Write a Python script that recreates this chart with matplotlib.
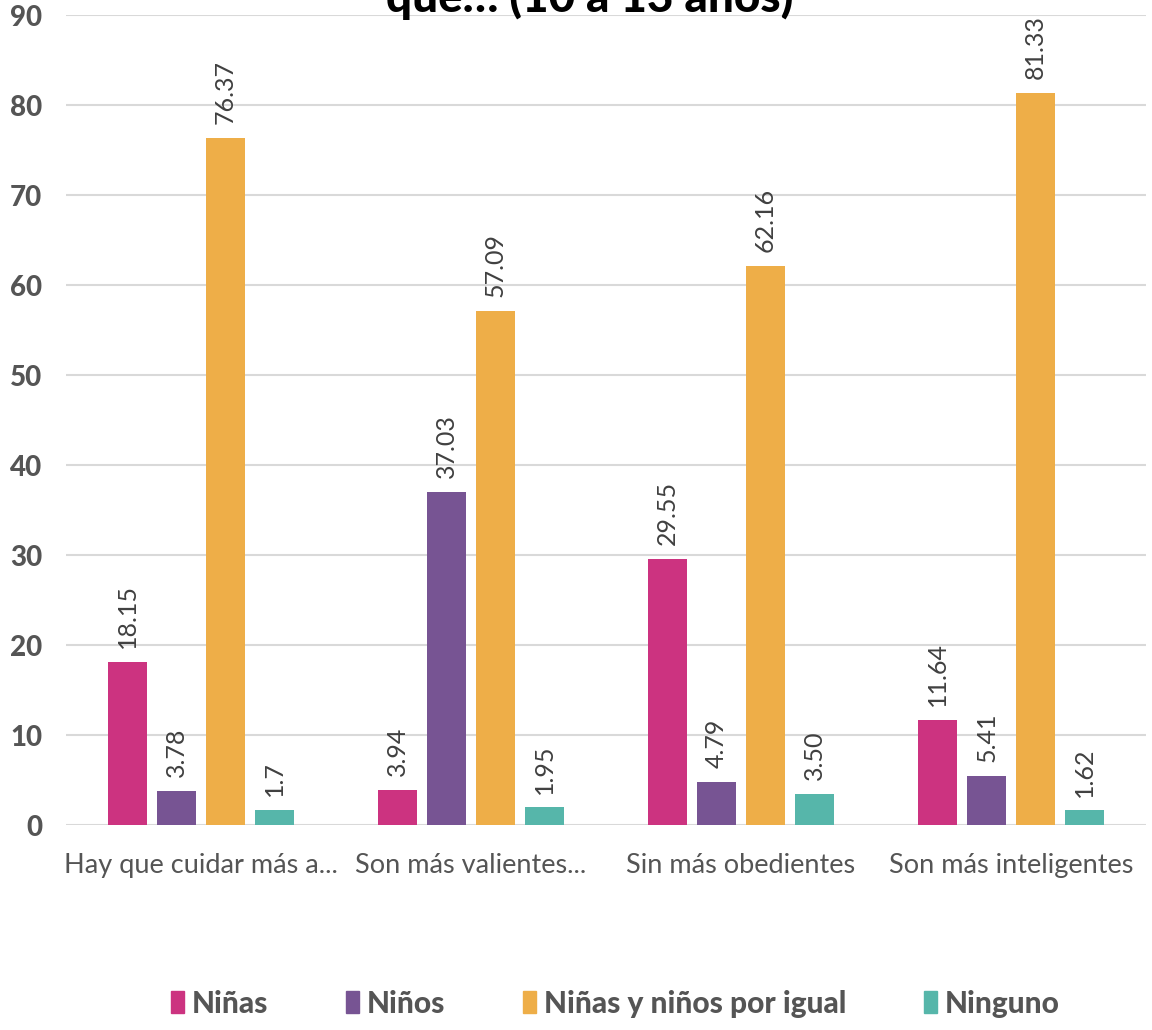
''' grouped bars: ninas / ninos (10 a 13 anos) '''
import numpy as np
import matplotlib.pyplot as plt
from matplotlib.patches import Patch

plt.rcParams['font.family'] = ['Lato', 'DejaVu Sans']

categories = ['Hay que cuidar más a...', 'Son más valientes...',
              'Sin más obedientes', 'Son más inteligentes']
series = ['Niñas', 'Niños', 'Niñas y niños por igual', 'Ninguno']
ninas = [18.15, 3.94, 29.55, 11.64]
ninos = [3.78, 37.03, 4.79, 5.41]
igual = [76.37, 57.09, 62.16, 81.33]
ninguno = [1.7, 1.95, 3.50, 1.62]
value_labels = [['18.15', '3.94', '29.55', '11.64'],
                ['3.78', '37.03', '4.79', '5.41'],
                ['76.37', '57.09', '62.16', '81.33'],
                ['1.7', '1.95', '3.50', '1.62']]
colors = ['#cc3380', '#775493', '#eeae48', '#56b6aa']
yticks = [0, 10, 20, 30, 40, 50, 60, 70, 80, 90]

fig = plt.figure(figsize=(11.52, 10.30), dpi=100)
ax = fig.add_axes([0.0573, 0.199, 0.9375, 0.7864])
ax.set_facecolor('none')

x = np.arange(len(categories))
step = 0.181
width = 0.144
values = [ninas, ninos, igual, ninguno]
for i, vals in enumerate(values):
    pos = x + (i - 1.5) * step
    bars = ax.bar(pos, vals, width=width, color=colors[i], zorder=3)
    for b, lab in zip(bars, value_labels[i]):
        ax.annotate(lab, (b.get_x() + b.get_width() / 2, b.get_height()),
                    xytext=(0, 10), textcoords='offset points',
                    rotation=90, ha='center', va='bottom',
                    fontsize=18, color='#404040')

ax.set_xlim(-0.5, 3.5)
ax.set_ylim(0, 90)
ax.set_yticks(yticks)
ax.set_yticklabels([str(t) for t in yticks], fontsize=20, fontweight='black',
                   color='#555555')
ax.set_xticks(x)
ax.set_xticklabels(categories, fontsize=19.5, color='#555555')
ax.tick_params(axis='y', length=0, pad=17)
ax.tick_params(axis='x', length=0, pad=20)
ax.grid(axis='y', color='#d9d9d9', linewidth=1.5, zorder=0)
for s in ax.spines.values():
    s.set_visible(False)

# the title is cut by the top edge in the source picture
fig.text(0.512, 0.9885, 'que… (10 a 13 años)', ha='center', va='baseline',
         fontsize=33, fontweight='black', color='black')

handles = [Patch(color=c) for c in colors]
fig.legend(handles, series, loc='lower center', bbox_to_anchor=(0.534, -0.014),
           ncol=4, frameon=False, handlelength=0.45, handleheight=0.75,
           handletextpad=0.25, columnspacing=2.6,
           prop={'size': 21.5, 'weight': 'black'}, labelcolor='#555555')

fig.savefig('out.png', dpi=100)
